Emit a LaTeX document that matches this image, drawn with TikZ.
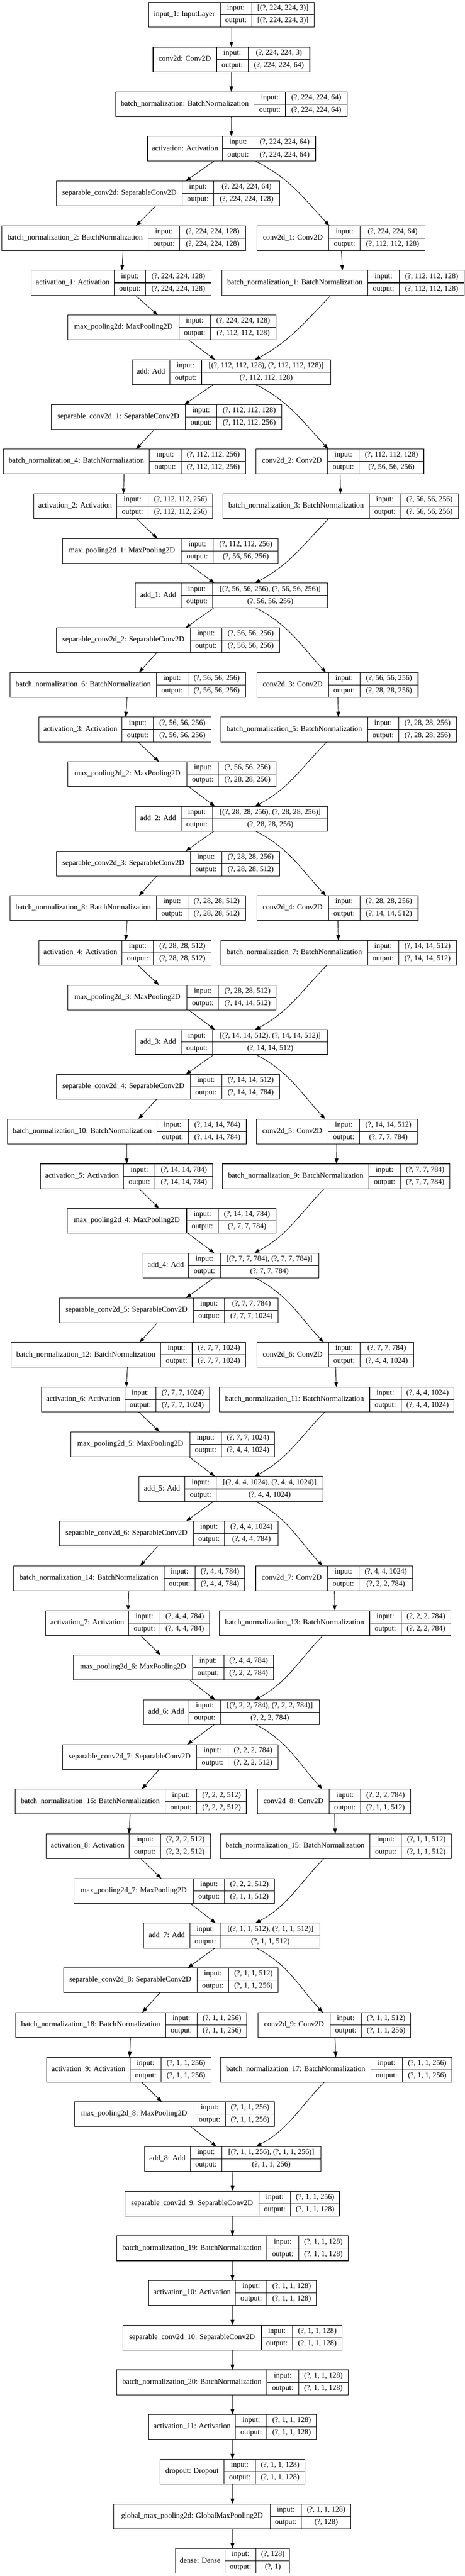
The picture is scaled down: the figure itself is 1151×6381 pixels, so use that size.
\documentclass[tikz,border=0pt]{standalone}
\usepackage{fontspec}
\setmainfont{Liberation Serif}
\usetikzlibrary{arrows.meta}
\begin{document}
\begin{tikzpicture}[x=0.75pt,y=-0.75pt,
  layerbox/.style={draw=layerblack, line width=1pt, inner sep=0pt, outer sep=0pt},
  cellrule/.style={draw=layerblack, line width=1pt},
  celltext/.style={inner sep=0pt, text=layerblack, font=\fontsize{14pt}{16pt}\selectfont, text height=8pt, text depth=2pt},
  edge/.style={draw=layerblack, line width=0.9pt, -{Triangle[length=10pt,width=7pt]}},
  skipout/.style={out=-27, in=133},
  skipin/.style={out=-134, in=28}]
	\definecolor{layerblack}{RGB}{0, 0, 0}
	\definecolor{layerwhite}{RGB}{255, 255, 255}
	% one keras layer: name, row, x of left edge, two rules, right edge, title, input, output
	\def\layer#1#2#3#4#5#6#7#8#9{%
		\pgfmathsetmacro\ytop{6+110.65*#2}%
		\pgfmathsetmacro\ybot{\ytop+61.4}%
		\pgfmathsetmacro\ymid{\ytop+30.7}%
		\node[layerbox, minimum width={(#6-#3)*0.75pt}, minimum height=46.05pt] (#1) at ({(#3+#6)/2},\ymid) {};
		\draw[cellrule] (#4,\ytop) -- (#4,\ybot) (#5,\ytop) -- (#5,\ybot) (#4,\ymid) -- (#6,\ymid);
		\node[celltext] (#1-t) at ({(#3+#4)/2},\ymid) {#7};
		\node[celltext] (#1-il) at ({(#4+#5)/2},\ytop+15.35) {input:};
		\node[celltext] (#1-ol) at ({(#4+#5)/2},\ybot-15.35) {output:};
		\node[celltext] (#1-iv) at ({(#5+#6)/2},\ytop+15.35) {#8};
		\node[celltext] (#1-ov) at ({(#5+#6)/2},\ybot-15.35) {#9};
	}
	\fill[layerwhite] (0,0) rectangle (1151,6381);
	\useasboundingbox (0,0) rectangle (1151,6381);
	% stem
	\layer{in1}{0}{368}{545}{623}{778}{input\_1: InputLayer}{[(?, 224, 224, 3)]}{[(?, 224, 224, 3)]}
	\layer{cv}{1}{379}{536}{614}{767}{conv2d: Conv2D}{(?, 224, 224, 3)}{(?, 224, 224, 64)}
	\layer{bn}{2}{286}{629}{707}{859}{batch\_normalization: BatchNormalization}{(?, 224, 224, 64)}{(?, 224, 224, 64)}
	\layer{act}{3}{365}{551}{628}{781}{activation: Activation}{(?, 224, 224, 64)}{(?, 224, 224, 64)}
	% block 1
	\layer{sep}{4}{140}{451}{529}{692}{separable\_conv2d: SeparableConv2D}{(?, 224, 224, 64)}{(?, 224, 224, 128)}
	\layer{bn2}{5}{5}{367}{445}{608}{batch\_normalization\_2: BatchNormalization}{(?, 224, 224, 128)}{(?, 224, 224, 128)}
	\layer{cv1}{5}{636}{814}{892}{1052}{conv2d\_1: Conv2D}{(?, 224, 224, 64)}{(?, 112, 112, 128)}
	\layer{act1}{6}{77}{283}{360}{523}{activation\_1: Activation}{(?, 224, 224, 128)}{(?, 224, 224, 128)}
	\layer{bn1}{6}{549}{911}{988}{1149}{batch\_normalization\_1: BatchNormalization}{(?, 112, 112, 128)}{(?, 112, 112, 128)}
	\layer{mp}{7}{168}{443}{521}{683}{max\_pooling2d: MaxPooling2D}{(?, 224, 224, 128)}{(?, 112, 112, 128)}
	\layer{add}{8}{327}{420}{499}{819}{add: Add}{[(?, 112, 112, 128), (?, 112, 112, 128)]}{(?, 112, 112, 128)}
	% block 2
	\layer{sep1}{9}{127}{459}{537}{697}{separable\_conv2d\_1: SeparableConv2D}{(?, 112, 112, 128)}{(?, 112, 112, 256)}
	\layer{bn4}{10}{8}{370}{448}{608}{batch\_normalization\_4: BatchNormalization}{(?, 112, 112, 256)}{(?, 112, 112, 256)}
	\layer{cv2}{10}{634}{811}{889}{1049}{conv2d\_2: Conv2D}{(?, 112, 112, 128)}{(?, 56, 56, 256)}
	\layer{act2}{11}{83}{289}{367}{527}{activation\_2: Activation}{(?, 112, 112, 256)}{(?, 112, 112, 256)}
	\layer{bn3}{11}{552}{914}{992}{1135}{batch\_normalization\_3: BatchNormalization}{(?, 56, 56, 256)}{(?, 56, 56, 256)}
	\layer{mp1}{12}{155}{449}{528}{689}{max\_pooling2d\_1: MaxPooling2D}{(?, 112, 112, 256)}{(?, 56, 56, 256)}
	\layer{add1}{13}{335}{448}{527}{811}{add\_1: Add}{[(?, 56, 56, 256), (?, 56, 56, 256)]}{(?, 56, 56, 256)}
	% block 3
	\layer{sep2}{14}{140}{471}{549}{692}{separable\_conv2d\_2: SeparableConv2D}{(?, 56, 56, 256)}{(?, 56, 56, 256)}
	\layer{bn6}{15}{25}{387}{465}{608}{batch\_normalization\_6: BatchNormalization}{(?, 56, 56, 256)}{(?, 56, 56, 256)}
	\layer{cv3}{15}{636}{813}{891}{1035}{conv2d\_3: Conv2D}{(?, 56, 56, 256)}{(?, 28, 28, 256)}
	\layer{act3}{16}{96}{302}{380}{523}{activation\_3: Activation}{(?, 56, 56, 256)}{(?, 56, 56, 256)}
	\layer{bn5}{16}{547}{910}{987}{1130}{batch\_normalization\_5: BatchNormalization}{(?, 28, 28, 256)}{(?, 28, 28, 256)}
	\layer{mp2}{17}{168}{463}{541}{684}{max\_pooling2d\_2: MaxPooling2D}{(?, 56, 56, 256)}{(?, 28, 28, 256)}
	\layer{add2}{18}{335}{448}{527}{811}{add\_2: Add}{[(?, 28, 28, 256), (?, 28, 28, 256)]}{(?, 28, 28, 256)}
	% block 4
	\layer{sep3}{19}{140}{471}{549}{692}{separable\_conv2d\_3: SeparableConv2D}{(?, 28, 28, 256)}{(?, 28, 28, 512)}
	\layer{bn8}{20}{25}{387}{465}{608}{batch\_normalization\_8: BatchNormalization}{(?, 28, 28, 512)}{(?, 28, 28, 512)}
	\layer{cv4}{20}{636}{813}{891}{1035}{conv2d\_4: Conv2D}{(?, 28, 28, 256)}{(?, 14, 14, 512)}
	\layer{act4}{21}{96}{302}{380}{523}{activation\_4: Activation}{(?, 28, 28, 512)}{(?, 28, 28, 512)}
	\layer{bn7}{21}{547}{910}{987}{1130}{batch\_normalization\_7: BatchNormalization}{(?, 14, 14, 512)}{(?, 14, 14, 512)}
	\layer{mp3}{22}{168}{463}{541}{684}{max\_pooling2d\_3: MaxPooling2D}{(?, 28, 28, 512)}{(?, 14, 14, 512)}
	\layer{add3}{23}{335}{448}{527}{811}{add\_3: Add}{[(?, 14, 14, 512), (?, 14, 14, 512)]}{(?, 14, 14, 512)}
	% block 5
	\layer{sep4}{24}{140}{471}{549}{692}{separable\_conv2d\_4: SeparableConv2D}{(?, 14, 14, 512)}{(?, 14, 14, 784)}
	\layer{bn10}{25}{18}{389}{466}{610}{batch\_normalization\_10: BatchNormalization}{(?, 14, 14, 784)}{(?, 14, 14, 784)}
	\layer{cv5}{25}{635}{812}{890}{1033}{conv2d\_5: Conv2D}{(?, 14, 14, 512)}{(?, 7, 7, 784)}
	\layer{act5}{26}{100}{306}{384}{527}{activation\_5: Activation}{(?, 14, 14, 784)}{(?, 14, 14, 784)}
	\layer{bn9}{26}{551}{913}{991}{1114}{batch\_normalization\_9: BatchNormalization}{(?, 7, 7, 784)}{(?, 7, 7, 784)}
	\layer{mp4}{27}{166}{462}{540}{683}{max\_pooling2d\_4: MaxPooling2D}{(?, 14, 14, 784)}{(?, 7, 7, 784)}
	\layer{add4}{28}{354}{467}{545}{789}{add\_4: Add}{[(?, 7, 7, 784), (?, 7, 7, 784)]}{(?, 7, 7, 784)}
	% block 6
	\layer{sep5}{29}{147}{479}{556}{689}{separable\_conv2d\_5: SeparableConv2D}{(?, 7, 7, 784)}{(?, 7, 7, 1024)}
	\layer{bn12}{30}{27}{398}{476}{608}{batch\_normalization\_12: BatchNormalization}{(?, 7, 7, 1024)}{(?, 7, 7, 1024)}
	\layer{cv6}{30}{636}{813}{891}{1024}{conv2d\_6: Conv2D}{(?, 7, 7, 784)}{(?, 4, 4, 1024)}
	\layer{act6}{31}{103}{309}{386}{519}{activation\_6: Activation}{(?, 7, 7, 1024)}{(?, 7, 7, 1024)}
	\layer{bn11}{31}{543}{915}{993}{1124}{batch\_normalization\_11: BatchNormalization}{(?, 4, 4, 1024)}{(?, 4, 4, 1024)}
	\layer{mp5}{32}{175}{470}{548}{680}{max\_pooling2d\_5: MaxPooling2D}{(?, 7, 7, 1024)}{(?, 4, 4, 1024)}
	\layer{add5}{33}{344}{458}{535}{800}{add\_5: Add}{[(?, 4, 4, 1024), (?, 4, 4, 1024)]}{(?, 4, 4, 1024)}
	% block 7
	\layer{sep6}{34}{147}{479}{556}{689}{separable\_conv2d\_6: SeparableConv2D}{(?, 4, 4, 1024)}{(?, 4, 4, 784)}
	\layer{bn14}{35}{34}{406}{483}{606}{batch\_normalization\_14: BatchNormalization}{(?, 4, 4, 784)}{(?, 4, 4, 784)}
	\layer{cv7}{35}{633}{811}{889}{1021}{conv2d\_7: Conv2D}{(?, 4, 4, 1024)}{(?, 2, 2, 784)}
	\layer{act7}{36}{113}{319}{396}{519}{activation\_7: Activation}{(?, 4, 4, 784)}{(?, 4, 4, 784)}
	\layer{bn13}{36}{543}{915}{993}{1116}{batch\_normalization\_13: BatchNormalization}{(?, 2, 2, 784)}{(?, 2, 2, 784)}
	\layer{mp6}{37}{182}{477}{554}{677}{max\_pooling2d\_6: MaxPooling2D}{(?, 4, 4, 784)}{(?, 2, 2, 784)}
	\layer{add6}{38}{355}{468}{546}{790}{add\_6: Add}{[(?, 2, 2, 784), (?, 2, 2, 784)]}{(?, 2, 2, 784)}
	% block 8
	\layer{sep7}{39}{155}{487}{565}{688}{separable\_conv2d\_7: SeparableConv2D}{(?, 2, 2, 784)}{(?, 2, 2, 512)}
	\layer{bn16}{40}{38}{409}{487}{610}{batch\_normalization\_16: BatchNormalization}{(?, 2, 2, 512)}{(?, 2, 2, 512)}
	\layer{cv8}{40}{638}{815}{893}{1016}{conv2d\_8: Conv2D}{(?, 2, 2, 784)}{(?, 1, 1, 512)}
	\layer{act8}{41}{114}{320}{397}{521}{activation\_8: Activation}{(?, 2, 2, 512)}{(?, 2, 2, 512)}
	\layer{bn15}{41}{545}{916}{994}{1117}{batch\_normalization\_15: BatchNormalization}{(?, 1, 1, 512)}{(?, 1, 1, 512)}
	\layer{mp7}{42}{183}{479}{556}{679}{max\_pooling2d\_7: MaxPooling2D}{(?, 2, 2, 512)}{(?, 1, 1, 512)}
	\layer{add7}{43}{356}{470}{547}{792}{add\_7: Add}{[(?, 1, 1, 512), (?, 1, 1, 512)]}{(?, 1, 1, 512)}
	% block 9
	\layer{sep8}{44}{157}{488}{566}{689}{separable\_conv2d\_8: SeparableConv2D}{(?, 1, 1, 512)}{(?, 1, 1, 256)}
	\layer{bn18}{45}{39}{410}{488}{611}{batch\_normalization\_18: BatchNormalization}{(?, 1, 1, 256)}{(?, 1, 1, 256)}
	\layer{cv9}{45}{639}{817}{895}{1017}{conv2d\_9: Conv2D}{(?, 1, 1, 512)}{(?, 1, 1, 256)}
	\layer{act9}{46}{116}{322}{399}{522}{activation\_9: Activation}{(?, 1, 1, 256)}{(?, 1, 1, 256)}
	\layer{bn17}{46}{546}{918}{996}{1119}{batch\_normalization\_17: BatchNormalization}{(?, 1, 1, 256)}{(?, 1, 1, 256)}
	\layer{mp8}{47}{184}{480}{558}{680}{max\_pooling2d\_8: MaxPooling2D}{(?, 1, 1, 256)}{(?, 1, 1, 256)}
	\layer{add8}{48}{358}{471}{549}{794}{add\_8: Add}{[(?, 1, 1, 256), (?, 1, 1, 256)]}{(?, 1, 1, 256)}
	% head
	\layer{sep9}{49}{310}{641}{719}{841}{separable\_conv2d\_9: SeparableConv2D}{(?, 1, 1, 256)}{(?, 1, 1, 128)}
	\layer{bn19}{50}{289}{661}{739}{862}{batch\_normalization\_19: BatchNormalization}{(?, 1, 1, 128)}{(?, 1, 1, 128)}
	\layer{act10}{51}{368}{583}{661}{783}{activation\_10: Activation}{(?, 1, 1, 128)}{(?, 1, 1, 128)}
	\layer{sep10}{52}{304}{647}{724}{847}{separable\_conv2d\_10: SeparableConv2D}{(?, 1, 1, 128)}{(?, 1, 1, 128)}
	\layer{bn20}{53}{289}{661}{739}{862}{batch\_normalization\_20: BatchNormalization}{(?, 1, 1, 128)}{(?, 1, 1, 128)}
	\layer{act11}{54}{368}{583}{661}{783}{activation\_11: Activation}{(?, 1, 1, 128)}{(?, 1, 1, 128)}
	\layer{drop}{55}{396}{555}{632}{755}{dropout: Dropout}{(?, 1, 1, 128)}{(?, 1, 1, 128)}
	\layer{gmp}{56}{282}{669}{746}{869}{global\_max\_pooling2d: GlobalMaxPooling2D}{(?, 1, 1, 128)}{(?, 128)}
	\layer{dense}{57}{434}{557}{634}{717}{dense: Dense}{(?, 128)}{(?, 1)}
	% straight edges
	\foreach \a/\b in {in1/cv, cv/bn, bn/act, act/sep, sep/bn2, bn2/act1, cv1/bn1, act1/mp, mp/add,
		add/sep1, sep1/bn4, bn4/act2, cv2/bn3, act2/mp1, mp1/add1,
		add1/sep2, sep2/bn6, bn6/act3, cv3/bn5, act3/mp2, mp2/add2,
		add2/sep3, sep3/bn8, bn8/act4, cv4/bn7, act4/mp3, mp3/add3,
		add3/sep4, sep4/bn10, bn10/act5, cv5/bn9, act5/mp4, mp4/add4,
		add4/sep5, sep5/bn12, bn12/act6, cv6/bn11, act6/mp5, mp5/add5,
		add5/sep6, sep6/bn14, bn14/act7, cv7/bn13, act7/mp6, mp6/add6,
		add6/sep7, sep7/bn16, bn16/act8, cv8/bn15, act8/mp7, mp7/add7,
		add7/sep8, sep8/bn18, bn18/act9, cv9/bn17, act9/mp8, mp8/add8,
		add8/sep9, sep9/bn19, bn19/act10, act10/sep10, sep10/bn20, bn20/act11,
		act11/drop, drop/gmp, gmp/dense}
		\draw[edge] (\a) -- (\b);
	% shortcut branches
	\foreach \a/\b in {act/cv1, add/cv2, add1/cv3, add2/cv4, add3/cv5, add4/cv6, add5/cv7, add6/cv8, add7/cv9}
		\draw[edge] (\a) to[skipout] (\b);
	\foreach \a/\b in {bn1/add, bn3/add1, bn5/add2, bn7/add3, bn9/add4, bn11/add5, bn13/add6, bn15/add7, bn17/add8}
		\draw[edge] (\a) to[skipin] (\b);
\end{tikzpicture}
\end{document}
